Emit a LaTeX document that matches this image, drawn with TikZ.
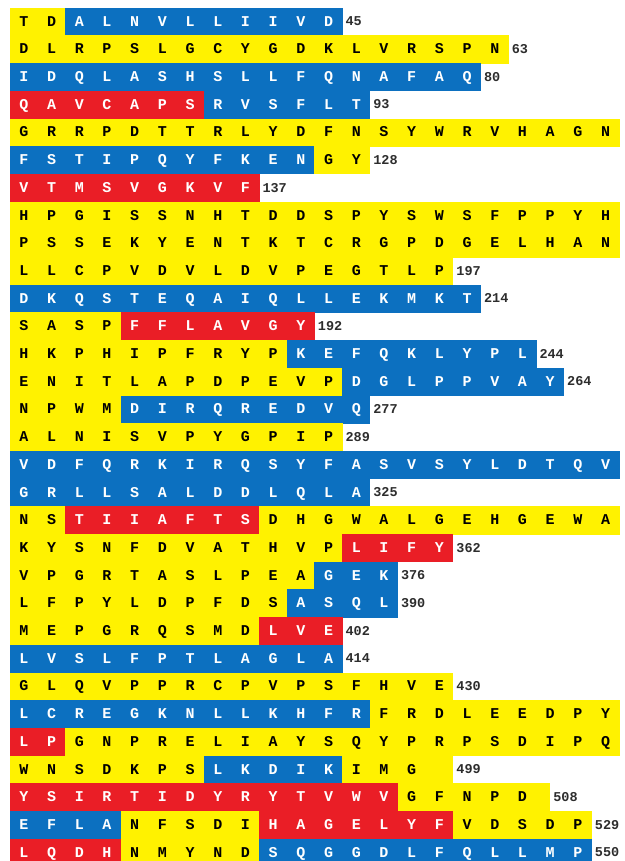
\documentclass[tikz,border=0pt]{standalone}
\usepackage{fontspec}
\newfontfamily\seqfont{Liberation Mono}
\definecolor{yel}{RGB}{255,242,0}
\definecolor{blu}{RGB}{12,112,192}
\definecolor{rd}{RGB}{234,30,38}
\definecolor{numc}{RGB}{45,45,45}
\newcommand\seg[4]{%
  \foreach \ch [count=\k from #2] in {#4} {%
    \node[#3] (c-#1-\k) at ({10+27.7*(\k+0.5)},{8+27.7*(#1+0.5)}) {\ch};}}
\newcommand\num[3]{%
  \node[numst] (n-#1) at ({10+27.7*#2+3},{8+27.7*(#1+0.5)}) {#3};}
\begin{document}
\begin{tikzpicture}[x=1pt,y=-1pt,
  cell/.style={minimum width=28.2pt,minimum height=28.2pt,inner sep=0pt,
    text height=8.6pt,text depth=0pt,
    font=\seqfont\bfseries\fontsize{15}{15}\selectfont},
  yc/.style={cell,fill=yel,text=black},
  bc/.style={cell,fill=blu,text=white},
  rc/.style={cell,fill=rd,text=white},
  numst/.style={anchor=west,inner sep=0pt,text=numc,text height=8pt,text depth=0pt,
    font=\seqfont\bfseries\fontsize{13.5}{13.5}\selectfont}]
\useasboundingbox (0,0) rectangle (624,861);
\clip (0,0) rectangle (624,861);
\seg{0}{0}{yc}{T,D}\seg{0}{2}{bc}{A,L,N,V,L,L,I,I,V,D}\num{0}{12}{45}
\seg{1}{0}{yc}{D,L,R,P,S,L,G,C,Y,G,D,K,L,V,R,S,P,N}\num{1}{18}{63}
\seg{2}{0}{bc}{I,D,Q,L,A,S,H,S,L,L,F,Q,N,A,F,A,Q}\num{2}{17}{80}
\seg{3}{0}{rc}{Q,A,V,C,A,P,S}\seg{3}{7}{bc}{R,V,S,F,L,T}\num{3}{13}{93}
\seg{4}{0}{yc}{G,R,R,P,D,T,T,R,L,Y,D,F,N,S,Y,W,R,V,H,A,G,N}
\seg{5}{0}{bc}{F,S,T,I,P,Q,Y,F,K,E,N}\seg{5}{11}{yc}{G,Y}\num{5}{13}{128}
\seg{6}{0}{rc}{V,T,M,S,V,G,K,V,F}\num{6}{9}{137}
\seg{7}{0}{yc}{H,P,G,I,S,S,N,H,T,D,D,S,P,Y,S,W,S,F,P,P,Y,H}
\seg{8}{0}{yc}{P,S,S,E,K,Y,E,N,T,K,T,C,R,G,P,D,G,E,L,H,A,N}
\seg{9}{0}{yc}{L,L,C,P,V,D,V,L,D,V,P,E,G,T,L,P}\num{9}{16}{197}
\seg{10}{0}{bc}{D,K,Q,S,T,E,Q,A,I,Q,L,L,E,K,M,K,T}\num{10}{17}{214}
\seg{11}{0}{yc}{S,A,S,P}\seg{11}{4}{rc}{F,F,L,A,V,G,Y}\num{11}{11}{192}
\seg{12}{0}{yc}{H,K,P,H,I,P,F,R,Y,P}\seg{12}{10}{bc}{K,E,F,Q,K,L,Y,P,L}\num{12}{19}{244}
\seg{13}{0}{yc}{E,N,I,T,L,A,P,D,P,E,V,P}\seg{13}{12}{bc}{D,G,L,P,P,V,A,Y}\num{13}{20}{264}
\seg{14}{0}{yc}{N,P,W,M}\seg{14}{4}{bc}{D,I,R,Q,R,E,D,V,Q}\num{14}{13}{277}
\seg{15}{0}{yc}{A,L,N,I,S,V,P,Y,G,P,I,P}\num{15}{12}{289}
\seg{16}{0}{bc}{V,D,F,Q,R,K,I,R,Q,S,Y,F,A,S,V,S,Y,L,D,T,Q,V}
\seg{17}{0}{bc}{G,R,L,L,S,A,L,D,D,L,Q,L,A}\num{17}{13}{325}
\seg{18}{0}{yc}{N,S}\seg{18}{2}{rc}{T,I,I,A,F,T,S}\seg{18}{9}{yc}{D,H,G,W,A,L,G,E,H,G,E,W,A}
\seg{19}{0}{yc}{K,Y,S,N,F,D,V,A,T,H,V,P}\seg{19}{12}{rc}{L,I,F,Y}\num{19}{16}{362}
\seg{20}{0}{yc}{V,P,G,R,T,A,S,L,P,E,A}\seg{20}{11}{bc}{G,E,K}\num{20}{14}{376}
\seg{21}{0}{yc}{L,F,P,Y,L,D,P,F,D,S}\seg{21}{10}{bc}{A,S,Q,L}\num{21}{14}{390}
\seg{22}{0}{yc}{M,E,P,G,R,Q,S,M,D}\seg{22}{9}{rc}{L,V,E}\num{22}{12}{402}
\seg{23}{0}{bc}{L,V,S,L,F,P,T,L,A,G,L,A}\num{23}{12}{414}
\seg{24}{0}{yc}{G,L,Q,V,P,P,R,C,P,V,P,S,F,H,V,E}\num{24}{16}{430}
\seg{25}{0}{bc}{L,C,R,E,G,K,N,L,L,K,H,F,R}\seg{25}{13}{yc}{F,R,D,L,E,E,D,P,Y}
\seg{26}{0}{rc}{L,P}\seg{26}{2}{yc}{G,N,P,R,E,L,I,A,Y,S,Q,Y,P,R,P,S,D,I,P,Q}
\seg{27}{0}{yc}{W,N,S,D,K,P,S}\seg{27}{7}{bc}{L,K,D,I,K}\seg{27}{12}{yc}{I,M,G,{}}\num{27}{16}{499}
\seg{28}{0}{rc}{Y,S,I,R,T,I,D,Y,R,Y,T,V,W,V}\seg{28}{14}{yc}{G,F,N,P,D}
\node[yc,minimum width=14pt,anchor=west] (blank28) at ({10+27.7*19-0.2},{8+27.7*28.5}) {};
\num{28}{19.5}{508}
\seg{29}{0}{bc}{E,F,L,A}\seg{29}{4}{yc}{N,F,S,D,I}\seg{29}{9}{rc}{H,A,G,E,L,Y,F}\seg{29}{16}{yc}{V,D,S,D,P}\num{29}{21}{529}
\seg{30}{0}{rc}{L,Q,D,H}\seg{30}{4}{yc}{N,M,Y,N,D}\seg{30}{9}{bc}{S,Q,G,G,D,L,F,Q,L,L,M,P}\num{30}{21}{550}
\end{tikzpicture}
\end{document}
